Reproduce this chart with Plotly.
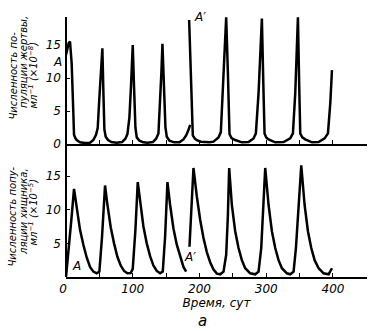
import plotly.graph_objects as go

# ---- data (days, values) ----
prey_a_day = [0, 2, 4, 6, 8.5, 11, 12, 14, 16, 21, 28.5, 36, 41, 45, 47.5, 50, 52.5, 54.5, 56, 57.5,
              59.5, 63, 68, 76, 84, 89, 92, 95, 97.5, 100, 102, 104, 106, 110, 116, 122, 130, 135,
              138.5, 141, 143, 144.5, 147, 149, 151, 155, 162, 170, 176, 180, 183, 186]
prey_a_val = [13.5, 14.6, 15.3, 15.5, 12.2, 4.7, 1.4, 0.9, 0.6, 0.25, 0.15, 0.2, 0.6, 1.4, 2.4, 7, 11.5, 14.5, 8, 2.2,
              1.1, 0.6, 0.3, 0.2, 0.3, 0.8, 1.5, 4, 9, 15, 8.5, 2.5, 1, 0.5, 0.25, 0.2, 0.3, 0.8,
              1.6, 6, 11, 15.2, 8, 2.5, 1.1, 0.5, 0.25, 0.25, 0.7, 1.3, 2, 2.9]

prey_b_day = [184.5, 187, 190, 193, 196, 202, 208.5, 215, 221, 226, 228.5, 232, 235, 237, 240, 242.5, 245,
              248, 253.5, 263.5, 273.5, 281, 284.5, 288.5, 291, 293.5, 296, 297.5, 300, 303.5, 313.5,
              326, 336, 340, 343.5, 345.5, 347.5, 349.5, 351, 354, 358.5, 368.5, 378.5, 387.5, 392.5,
              396, 398.5]
prey_b_val = [18.8, 11, 1.3, 0.8, 0.6, 0.35, 0.25, 0.25, 0.35, 0.7, 1, 1.8, 8.4, 13.4, 19.2, 11, 1.5,
              0.9, 0.6, 0.25, 0.3, 0.85, 1.6, 7.7, 12.7, 19.0, 7.7, 1.6, 1.0, 0.7, 0.25,
              0.3, 0.85, 1.6, 7.7, 12.7, 19.2, 8.5, 1.6, 1.0, 0.7, 0.25, 0.3, 0.85, 1.6,
              6.2, 11.2]

pred_a_day = [0, 4, 8, 12, 16, 21, 26, 31, 36, 41, 46, 50, 54, 58.5,
              62, 67, 72, 77, 82, 87, 92, 97, 100, 104, 107.5,
              111, 116, 121, 126, 131, 136, 141, 145, 148.5, 152,
              156, 161, 166, 171, 176, 180]
pred_a_val = [0, 3.8, 8.5, 13.1, 10.5, 7, 4.8, 2.9, 1.5, 0.8, 0.55, 0.8, 6, 13.6,
              10.8, 7.4, 5, 3, 1.7, 0.9, 0.55, 0.6, 1.2, 7, 14.1,
              11, 7.5, 5, 3.1, 1.7, 0.9, 0.55, 0.8, 6, 14.1,
              10.7, 7.2, 4.8, 3, 1.5, 0.8]

pred_b_day = [185, 191, 196, 201, 206, 211, 216, 221, 226, 231, 236, 240, 242.5, 244.5,
              248.5, 253.5, 258.5, 263.5, 268.5, 276, 283.5, 288.5, 292.5, 295, 298.5,
              303.5, 308.5, 313.5, 318.5, 323.5, 331, 336, 341, 344.5, 347.5, 352.5,
              357.5, 362.5, 367.5, 372.5, 378.5, 386, 393.5, 398.5]
pred_b_val = [4.5, 16.2, 12, 8.5, 5.8, 3.7, 2.2, 1.1, 0.5, 0.4, 0.8, 3.3, 9, 16.2,
              10.7, 6.8, 4.3, 2.5, 1.3, 0.55, 0.4, 0.8, 4.3, 9.2, 16.2,
              10.7, 6.8, 4.3, 2.5, 1.3, 0.55, 0.4, 0.8, 4.3, 9.2, 16.6,
              10.7, 6.8, 4.3, 2.5, 1.3, 0.55, 0.4, 1.3]

x_tickvals = [0, 50, 100, 150, 200, 250, 300, 350, 400]
x_ticktext = ['0\u2002', '', '100', '', '200', '', '300', '', '400']
prey_tickvals = [0, 5, 10, 15]
pred_tickvals = [5, 10, 15]

# ---- layout geometry (pixels) ----
W, H = 375, 331
L, R, T, B = 66, 8, 17, 54
PW, PH = W - L - R, H - T - B


def px(xp):
    return (xp - L) / PW


def py(yp):
    return (H - B - yp) / PH


FONT = 'DejaVu Sans'
line_style = dict(color='black', width=2.5)

fig = go.Figure()
fig.add_trace(go.Scatter(x=prey_a_day, y=prey_a_val, xaxis='x2', yaxis='y2', mode='lines', line=line_style))
fig.add_trace(go.Scatter(x=prey_b_day, y=prey_b_val, xaxis='x2', yaxis='y2', mode='lines', line=line_style))
fig.add_trace(go.Scatter(x=pred_a_day, y=pred_a_val, xaxis='x', yaxis='y', mode='lines', line=line_style))
fig.add_trace(go.Scatter(x=pred_b_day, y=pred_b_val, xaxis='x', yaxis='y', mode='lines', line=line_style))

tickfont = dict(family=FONT, size=12, color='black', style='italic')
common_x = dict(range=[0, 451], tickvals=x_tickvals, ticks='inside', ticklen=4, tickwidth=1.2,
                tickcolor='black', showline=True, linewidth=2, linecolor='black', showgrid=False,
                zeroline=False, tickfont=tickfont, domain=[0, 1])
common_y = dict(ticks='inside', ticklen=4, tickwidth=1.2, tickcolor='black', showline=False,
                showgrid=False, zeroline=False, tickfont=tickfont, ticklabelstandoff=4)

fig.update_layout(
    width=W, height=H, margin=dict(l=L, r=R, t=T, b=B),
    paper_bgcolor='white', plot_bgcolor='white', showlegend=False,
    font=dict(family=FONT, color='black'),
    xaxis=dict(common_x, anchor='y', ticktext=x_ticktext,
               title=dict(text='Время, сут', font=dict(family=FONT, size=12, style='italic'), standoff=0)),
    yaxis=dict(common_y, domain=[0, py(160)], range=[0, 117 / 6.73], tickvals=pred_tickvals),
    xaxis2=dict(common_x, anchor='y2', showticklabels=False),
    yaxis2=dict(common_y, domain=[py(144), 1], range=[0, 127 / 6.6], tickvals=prey_tickvals),
)

# continuous vertical axis line through both panels
fig.add_shape(type='line', xref='paper', yref='paper', x0=0, x1=0, y0=0, y1=1,
              line=dict(color='black', width=2))

ann_font = dict(family=FONT, size=10, color='black', style='italic')
title_lines = [
    ('Численность по-', 13, 75.5),
    ('пуляции жертвы,', 23, 62),
    ('мл<sup>−1</sup> (×10<sup>−8</sup>)', 32.5, 75),
    ('Численность попу-', 12.5, 217),
    ('ляции хищника,', 23, 212),
    ('мл<sup>−1</sup> (×10<sup>−5</sup>)', 32.5, 212),
]
for text, xp, yp in title_lines:
    fig.add_annotation(text=text, xref='paper', yref='paper', x=px(xp), y=py(yp),
                       xanchor='center', yanchor='middle', textangle=-90, showarrow=False,
                       font=ann_font)

lab_font = dict(family=FONT, size=12, color='black', style='italic')
labels = [
    ('A', 57, 62),
    ("A′", 200, 17),
    ('A', 76, 266),
    ("A′", 190, 257),
]
for text, xp, yp in labels:
    fig.add_annotation(text=text, xref='paper', yref='paper', x=px(xp), y=py(yp),
                       xanchor='center', yanchor='middle', showarrow=False, font=lab_font)

fig.add_annotation(text='а', xref='paper', yref='paper', x=px(202), y=py(321),
                   xanchor='center', yanchor='middle', showarrow=False,
                   font=dict(family=FONT, size=15, color='black', style='italic'))

fig.write_html('out.html')
